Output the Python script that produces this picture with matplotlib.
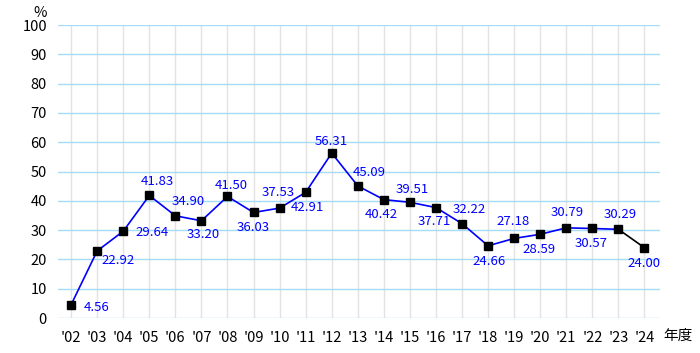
import matplotlib.pyplot as plt
import numpy as np

plt.rcParams['font.family'] = ['Noto Sans CJK JP', 'DejaVu Sans']

anios = ["'02", "'03", "'04", "'05", "'06", "'07", "'08", "'09", "'10", "'11", "'12",
         "'13", "'14", "'15", "'16", "'17", "'18", "'19", "'20", "'21", "'22", "'23", "'24"]
valores = [4.56, 22.92, 29.64, 41.83, 34.90, 33.20, 41.50, 36.03, 37.53, 42.91, 56.31,
           45.09, 40.42, 39.51, 37.71, 32.22, 24.66, 27.18, 28.59, 30.79, 30.57, 30.29, 24.00]
# desplazamiento de las etiquetas (en puntos)
despl = [(18, -2), (15, -7), (21, -1), (6, 10), (9, 10), (1, -10), (3, 8), (0, -11),
         (-1, 11), (1, -11), (0, 8), (8, 10), (-2, -11), (2, 9), (-1, -10), (5, 10),
         (1, -11), (-1, 12), (-1, -11), (1, 11), (-1, -11), (1, 11), (0, -11)]

x = np.arange(len(anios))

fig = plt.figure(figsize=(7, 3.53), dpi=100)
ax = fig.add_axes([0.083, 0.099, 0.86, 0.83])

# rejilla
for yy in range(0, 101, 10):
    ax.axhline(yy, color='#a6dcf7', lw=1, zorder=1)
for xx in x:
    ax.axvline(xx, color='#e2e2e2', lw=1, zorder=0)

ax.plot(x[:-1], valores[:-1], color='#0000ff', lw=1.2, zorder=2)
ax.plot(x[-2:], valores[-2:], color='black', lw=1.2, zorder=2)
ax.plot(x, valores, 's', color='black', ms=6, zorder=3)

for i in range(len(x)):
    ax.annotate("%.2f" % valores[i], (x[i], valores[i]), xytext=despl[i],
                textcoords='offset points', ha='center', va='center',
                color='#0000ff', fontsize=9.5)

ax.set_xlim(-0.5, 22.6)
ax.set_ylim(0, 100)
ax.set_xticks(x)
ax.set_xticklabels(anios, fontsize=10.5)
ax.set_yticks(range(0, 101, 10))
ax.set_yticklabels([str(v) for v in range(0, 101, 10)], fontsize=10.5)
ax.tick_params(axis='x', length=0, pad=9)
ax.tick_params(axis='y', length=0, pad=8)
for s in ax.spines.values():
    s.set_visible(False)

fig.text(0.057, 0.962, "%", fontsize=10.5, ha='center', va='center')
fig.text(0.947, 0.05, "年度", fontsize=10.5, ha='left', va='center')

plt.savefig('out.png', dpi=100)
